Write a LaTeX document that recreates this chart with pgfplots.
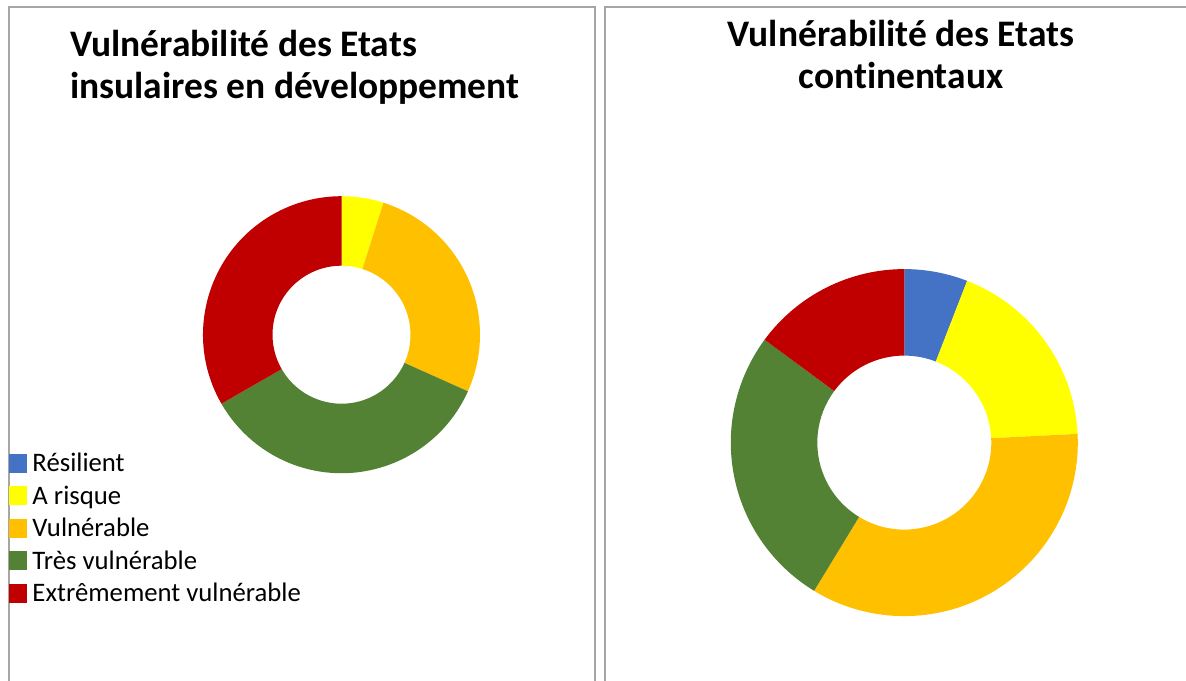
\documentclass[border=0pt]{standalone}
\usepackage{fontspec}
\setmainfont{Carlito}[Ligatures=CommonOff]
\usepackage{pgfplots}
\usepackage{pgfplotstable}
\pgfplotsset{compat=1.18}
\definecolor{cBlue}{HTML}{4472C4}
\definecolor{cYellow}{HTML}{FFFF00}
\definecolor{cOrange}{HTML}{FFC000}
\definecolor{cGreen}{HTML}{548235}
\definecolor{cRed}{HTML}{C00000}
\definecolor{cBorder}{HTML}{A6A6A6}

% Share of states in each vulnerability class (percent)
\pgfplotstableread{
cat val col
Resilient 0 cBlue
Arisque 4.9 cYellow
Vulnerable 26.8 cOrange
TresVulnerable 35.0 cGreen
ExtremementVulnerable 33.3 cRed
}\tabIns
\pgfplotstableread{
cat val col
Resilient 5.9 cBlue
Arisque 18.3 cYellow
Vulnerable 34.5 cOrange
TresVulnerable 26.4 cGreen
ExtremementVulnerable 14.9 cRed
}\tabCont

% #1 table, #2 cx, #3 cy, #4 outer radius, #5 inner radius (all in bp = axis units)
\newcommand\donut[5]{%
  \def\cumval{0}%
  \pgfplotstablegetrowsof{#1}%
  \pgfmathtruncatemacro\lastrow{\pgfplotsretval-1}%
  \pgfmathsetmacro\ringw{#4-#5}%
  \pgfplotsforeachungrouped \rowidx in {0,...,\lastrow}{%
    \pgfplotstablegetelem{\rowidx}{val}\of{#1}\let\sliceval\pgfplotsretval
    \pgfplotstablegetelem{\rowidx}{col}\of{#1}\let\slicecol\pgfplotsretval
    \pgfmathsetmacro\aone{90-3.6*\cumval}%
    \pgfmathsetmacro\cumval{\cumval+\sliceval}%
    \pgfmathsetmacro\atwo{90-3.6*\cumval}%
    \pgfmathsetmacro\aback{\atwo+180}%
    \edef\temp{\noexpand\fill[\slicecol] (axis cs:#2,#3) ++(\aone:#4bp)
      arc[start angle=\aone, end angle=\atwo, radius=#4bp]
      -- ++(\aback:\ringw bp)
      arc[start angle=\atwo, end angle=\aone, radius=#5bp] -- cycle;}%
    \temp
  }%
}

\begin{document}
\begin{tikzpicture}
\useasboundingbox (0,0) rectangle (1186bp,681bp);
\fill[white] (0,0) rectangle (1186bp,681bp);
\draw[line width=2bp, cBorder] (9bp,-2bp) -- (9bp,674bp) -- (595bp,674bp) -- (595bp,-2bp);
\draw[line width=2bp, cBorder] (605bp,-2bp) -- (605bp,674bp) -- (1190bp,674bp);
\begin{axis}[
  at={(0,0)}, anchor=origin,
  x=1bp, y=1bp, xmin=0, xmax=1186, ymin=0, ymax=681,
  hide axis, clip=false,
  legend image code/.code={\fill[#1, draw=none] (0bp,-9.5bp) rectangle (18.5bp,9.5bp);},
  legend cell align=left,
  legend style={at={(9/1186,234.25/681)}, anchor=north west,
    draw=none, fill=none, inner sep=0pt, outer sep=0pt,
    row sep=0pt, column sep=5bp,
    font=\fontsize{26.8}{32}\selectfont,
    nodes={inner sep=0pt, text height=24.75bp, text depth=7.75bp}},
]
\donut{\tabIns}{341.5}{346.3}{138.5}{69}
\donut{\tabCont}{904.3}{238.4}{173.5}{87}
\addlegendimage{fill=cBlue, draw=none}
\addlegendentry{Résilient}
\addlegendimage{fill=cYellow, draw=none}
\addlegendentry{A risque}
\addlegendimage{fill=cOrange, draw=none}
\addlegendentry{Vulnérable}
\addlegendimage{fill=cGreen, draw=none}
\addlegendentry{Très vulnérable}
\addlegendimage{fill=cRed, draw=none}
\addlegendentry{Extrêmement vulnérable}
\node[anchor=base west, inner sep=0pt, font=\fontsize{37.6}{44}\selectfont\bfseries] at (axis cs:70,624.3) {Vulnérabilité des Etats};
\node[anchor=base west, inner sep=0pt, font=\fontsize{37.6}{44}\selectfont\bfseries] at (axis cs:70,582.7) {insulaires en développement};
\node[anchor=base, inner sep=0pt, font=\fontsize{37.6}{44}\selectfont\bfseries] at (axis cs:901,634.3) {Vulnérabilité des Etats};
\node[anchor=base, inner sep=0pt, font=\fontsize{37.6}{44}\selectfont\bfseries] at (axis cs:901,592.7) {continentaux};
\end{axis}
\end{tikzpicture}
\end{document}
